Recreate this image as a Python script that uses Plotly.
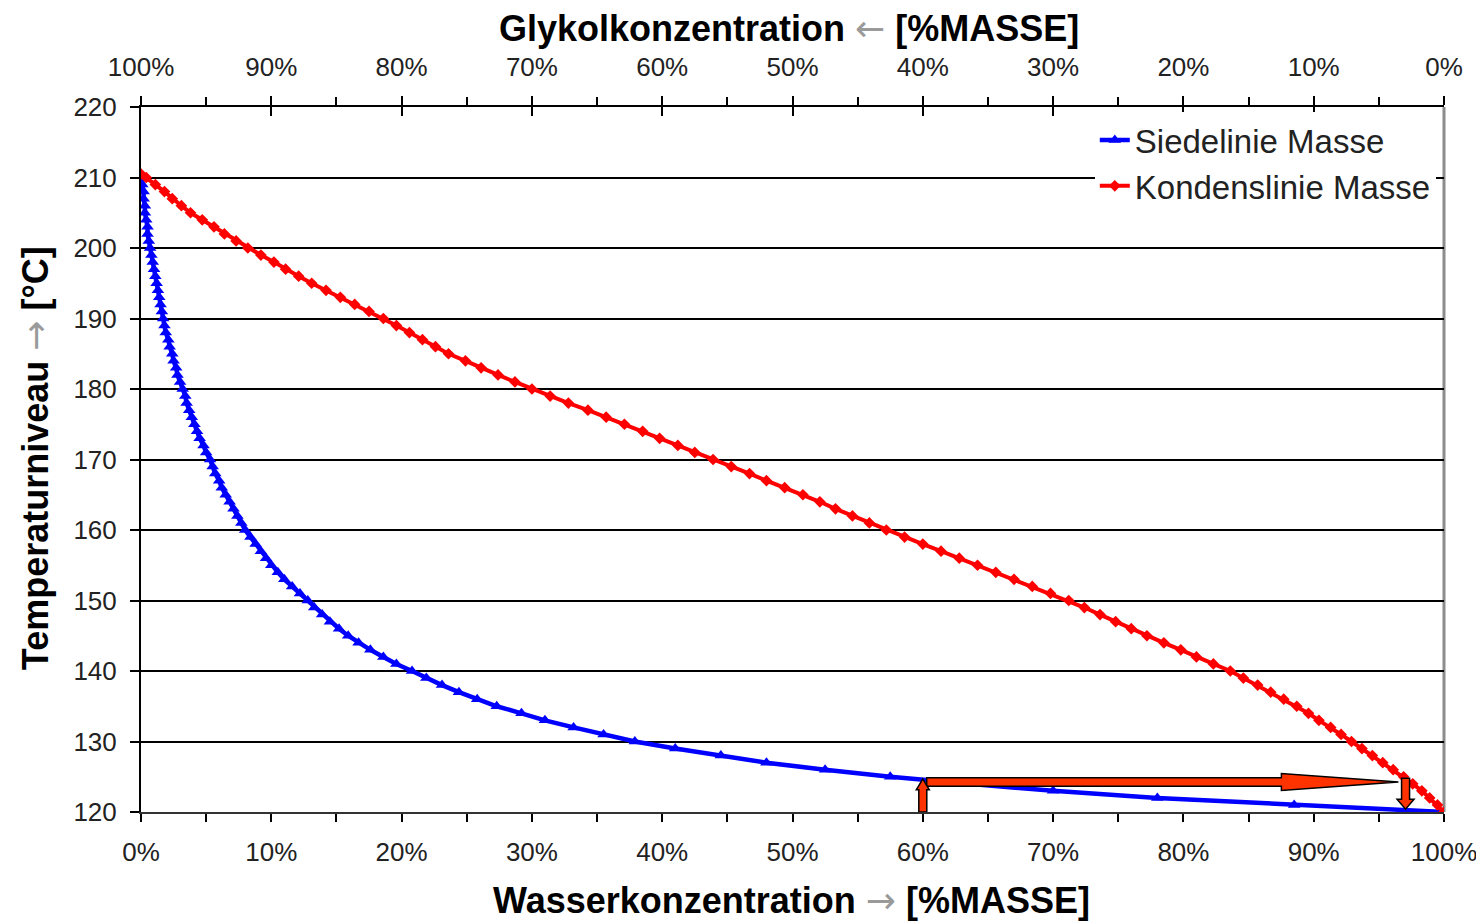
import plotly.graph_objects as go

# ---------------- data ----------------
# Siedelinie (boiling line): temperature [°C] and water mass fraction
siede_T = [210.5, 210, 209, 208, 207, 206, 205, 204, 203, 202, 201, 200,
           199, 198, 197, 196, 195, 194, 193, 192, 191, 190,
           189, 188, 187, 186, 185, 184, 183, 182, 181, 180,
           179, 178, 177, 176, 175, 174, 173, 172, 171, 170,
           169, 168, 167, 166, 165, 164, 163, 162, 161, 160,
           159, 158, 157, 156, 155, 154, 153, 152, 151, 150,
           149, 148, 147, 146, 145, 144, 143, 142, 141, 140,
           139, 138, 137, 136, 135, 134, 133, 132, 131, 130,
           129, 128, 127, 126, 125, 124, 123, 122, 121, 120]
siede_w = [0.000, 0.001, 0.001, 0.002, 0.002, 0.003, 0.003, 0.004, 0.005, 0.005, 0.006, 0.007,
           0.008, 0.009, 0.010, 0.011, 0.012, 0.013, 0.014, 0.015, 0.016, 0.017,
           0.018, 0.019, 0.021, 0.022, 0.024, 0.025, 0.027, 0.028, 0.030, 0.032,
           0.034, 0.035, 0.037, 0.039, 0.041, 0.043, 0.045, 0.048, 0.050, 0.053,
           0.055, 0.057, 0.060, 0.062, 0.065, 0.068, 0.071, 0.074, 0.077, 0.080,
           0.084, 0.088, 0.092, 0.096, 0.100, 0.105, 0.110, 0.116, 0.122, 0.128,
           0.133, 0.139, 0.145, 0.152, 0.159, 0.167, 0.176, 0.186, 0.196, 0.208,
           0.219, 0.231, 0.244, 0.258, 0.273, 0.292, 0.310, 0.332, 0.355, 0.379,
           0.410, 0.445, 0.480, 0.525, 0.575, 0.635, 0.700, 0.780, 0.885, 1.000]

# Kondenslinie (dew line): temperature [°C] and water mass fraction
kond_T = siede_T
kond_w = [0.000, 0.004, 0.011, 0.018, 0.024, 0.031, 0.038, 0.047, 0.056, 0.064, 0.073, 0.082,
          0.092, 0.102, 0.111, 0.121, 0.131, 0.142, 0.153, 0.164, 0.175, 0.186,
          0.196, 0.206, 0.216, 0.226, 0.236, 0.249, 0.261, 0.274, 0.287, 0.300,
          0.314, 0.328, 0.343, 0.357, 0.371, 0.385, 0.398, 0.412, 0.425, 0.439,
          0.453, 0.467, 0.480, 0.494, 0.508, 0.521, 0.533, 0.546, 0.559, 0.572,
          0.586, 0.600, 0.614, 0.628, 0.642, 0.656, 0.670, 0.684, 0.698, 0.712,
          0.724, 0.736, 0.748, 0.760, 0.772, 0.785, 0.798, 0.810, 0.823, 0.836,
          0.846, 0.857, 0.867, 0.877, 0.887, 0.896, 0.904, 0.913, 0.921, 0.929,
          0.937, 0.945, 0.953, 0.961, 0.969, 0.976, 0.983, 0.989, 0.995, 1.000]

series_names = ["Siedelinie Masse", "Kondenslinie Masse"]

ARROW_SPAN = ("<span style='color:#9a9a9a;font-weight:normal;"
              "font-family:DejaVu Sans'>{}</span>")
x_title_bottom = "Wasserkonzentration " + ARROW_SPAN.format("\u2192") + " [%MASSE]"
x_title_top = "Glykolkonzentration " + ARROW_SPAN.format("\u2190") + " [%MASSE]"
y_title = "Temperaturniveau " + ARROW_SPAN.format("\u2192") + " [\u00b0C]"

# annotation arrows (process path): water fraction / temperature anchors
arrow_up_x = 0.600
arrow_up_top = 124.7
arrow_h_start = 0.603
arrow_h_end = 0.965
arrow_h_T = 124.26
arrow_down_x = 0.9705
arrow_down_top = 124.8
arrow_down_tip = 120.4

# ---------------- figure ----------------
FONT = "Liberation Sans, Arial, sans-serif"
# page body has an 8px default margin: compensate so the plot lands in place
W, H = 1476, 915
ML, MR, MT, MB = 133, 40, 99, 111
PW, PH = W - ML - MR, H - MT - MB
x_min, x_max, y_min, y_max = 0.0, 1.0, 120.0, 220.0
px_x = (x_max - x_min) / PW   # data units per px
px_y = (y_max - y_min) / PH

fig = go.Figure()
fig.add_trace(go.Scatter(
    x=siede_w, y=siede_T, mode="lines+markers", name=series_names[0],
    line=dict(color="#0000FF", width=4.5),
    marker=dict(symbol="triangle-up", size=11, color="#0000FF")))
fig.add_trace(go.Scatter(
    x=kond_w, y=kond_T, mode="lines+markers", name=series_names[1],
    line=dict(color="#FF0000", width=4),
    marker=dict(symbol="diamond", size=9, color="#FF0000")))
# helper traces so the top axes are always drawn
fig.add_trace(go.Scatter(x=[None], y=[None], xaxis="x2", showlegend=False, hoverinfo="skip"))
fig.add_trace(go.Scatter(x=[None], y=[None], xaxis="x3", showlegend=False, hoverinfo="skip"))

tickfont = dict(family=FONT, size=26, color="#222222")
titlefont = dict(family=FONT, size=36, color="#000000", weight="bold")

fig.update_layout(
    width=W, height=H,
    margin=dict(l=ML, r=MR, t=MT, b=MB, autoexpand=False),
    paper_bgcolor="white", plot_bgcolor="white",
    font=dict(family=FONT, color="#000"),
    showlegend=True,
    legend=dict(x=0.732, y=0.993, xanchor="left", yanchor="top",
                bgcolor="white", borderwidth=0,
                font=dict(family=FONT, size=33, color="#222222")),
    xaxis=dict(range=[x_min, x_max], tick0=0, dtick=0.1, tickformat=".0%",
               ticks="outside", ticklen=8, tickwidth=1.5, tickcolor="#000",
               minor=dict(dtick=0.05, ticks="outside", ticklen=8, tickwidth=1.5,
                          tickcolor="#000", showgrid=False),
               showline=True, linecolor="#333", linewidth=2,
               showgrid=False, zeroline=False, automargin=False,
               ticklabelstandoff=8, tickfont=tickfont),
    xaxis2=dict(overlaying="x", side="top", anchor="y", range=[x_max, x_min],
                tick0=0, dtick=0.1, tickformat=".0%",
                ticks="outside", ticklen=9, tickwidth=1.5, tickcolor="#000",
                minor=dict(dtick=0.05, ticks="outside", ticklen=8, tickwidth=1.5,
                           tickcolor="#000", showgrid=False),
                showline=True, linecolor="#000", linewidth=2,
                showgrid=False, zeroline=False, automargin=False,
                ticklabelstandoff=10, tickfont=tickfont),
    xaxis3=dict(overlaying="x", side="top", anchor="y", range=[x_max, x_min],
                tick0=0, dtick=0.1, ticks="inside", ticklen=9, tickwidth=1.5,
                tickcolor="#000", showticklabels=False, showline=False,
                showgrid=False, zeroline=False, automargin=False),
    yaxis=dict(range=[y_min, y_max], tick0=120, dtick=10,
               ticks="outside", ticklen=9, tickwidth=1.5, tickcolor="#000",
               showline=True, linecolor="#000", linewidth=2,
               showgrid=True, gridcolor="#000", gridwidth=1.5, zeroline=False,
               automargin=False,
               ticklabelstandoff=8, tickfont=tickfont),
)

# axis titles as paper-positioned annotations
fig.add_annotation(text=x_title_top, xref="paper", yref="paper", x=0.497, y=1.112,
                   xanchor="center", yanchor="middle", showarrow=False, font=titlefont)
fig.add_annotation(text=x_title_bottom, xref="paper", yref="paper", x=0.499, y=-0.126,
                   xanchor="center", yanchor="middle", showarrow=False, font=titlefont)
fig.add_annotation(text=y_title, xref="paper", yref="paper", x=-0.0813, y=0.502,
                   xanchor="center", yanchor="middle", showarrow=False, font=titlefont,
                   textangle=-90)

# right frame border (gray)
shapes = [dict(type="line", xref="paper", yref="paper", x0=1, x1=1, y0=0, y1=1,
               line=dict(color="#8c8c8c", width=3), layer="between")]

ARROW_FILL = "#FF3300"
ARROW_LINE = dict(color="#000", width=1.5)

def poly(points):
    return "M " + " L ".join(f"{px},{py}" for px, py in points) + " Z"

# up arrow (from axis to boiling line)
sh, hh, hl = 4 * px_x, 6.5 * px_x, 11 * px_y
up_pts = [(arrow_up_x - sh, y_min), (arrow_up_x + sh, y_min),
          (arrow_up_x + sh, arrow_up_top - hl), (arrow_up_x + hh, arrow_up_top - hl),
          (arrow_up_x, arrow_up_top), (arrow_up_x - hh, arrow_up_top - hl),
          (arrow_up_x - sh, arrow_up_top - hl)]
# horizontal arrow
bh, hh2, hl2 = 4.2 * px_y, 8.5 * px_y, 117 * px_x
h_pts = [(arrow_h_start, arrow_h_T - bh), (arrow_h_end - hl2, arrow_h_T - bh),
         (arrow_h_end - hl2, arrow_h_T - hh2), (arrow_h_end, arrow_h_T),
         (arrow_h_end - hl2, arrow_h_T + hh2), (arrow_h_end - hl2, arrow_h_T + bh),
         (arrow_h_start, arrow_h_T + bh)]
# down arrow
sh3, hh3, hl3 = 4 * px_x, 8.5 * px_x, 10 * px_y
d_pts = [(arrow_down_x - sh3, arrow_down_top), (arrow_down_x + sh3, arrow_down_top),
         (arrow_down_x + sh3, arrow_down_tip + hl3), (arrow_down_x + hh3, arrow_down_tip + hl3),
         (arrow_down_x, arrow_down_tip), (arrow_down_x - hh3, arrow_down_tip + hl3),
         (arrow_down_x - sh3, arrow_down_tip + hl3)]

for pts in (h_pts, up_pts, d_pts):
    shapes.append(dict(type="path", xref="x", yref="y", path=poly(pts),
                       fillcolor=ARROW_FILL, line=ARROW_LINE, layer="above"))

fig.update_layout(shapes=shapes)

fig.write_html("out.html")
